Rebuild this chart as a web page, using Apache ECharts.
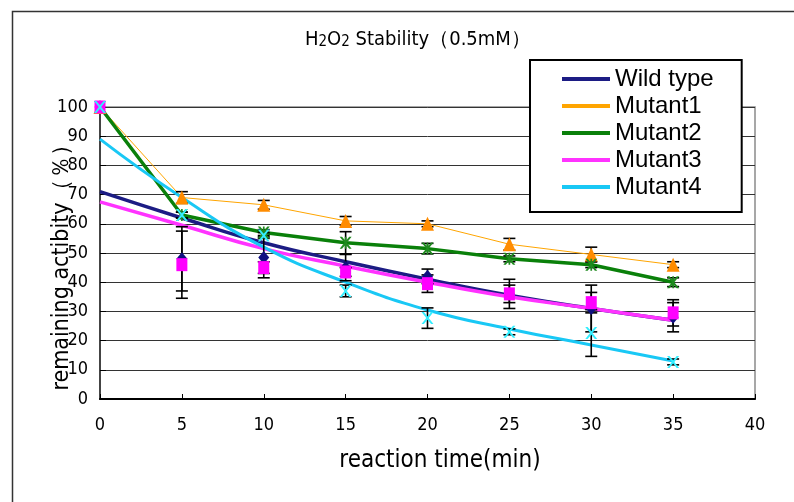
<!DOCTYPE html>
<html>
<head>
<meta charset="utf-8">
<script src="https://cdn.jsdelivr.net/npm/echarts@6/dist/echarts.min.js"></script>
<style>
  html, body { margin: 0; padding: 0; background: #fff; }
  #chart { width: 794px; height: 502px; }
</style>
</head>
<body>
<div id="chart"></div>
<script>
// reaction time (min)
const times = [0, 5, 10, 15, 20, 25, 30, 35];

// measured remaining activity (%) – marker positions
const wildType = [100, 48, 48.5, 45, 42, 36, 31, 28];
const mutant1  = [100, 69, 66.5, 61, 60, 53, 49.5, 46];
const mutant2  = [100, 63, 57, 53.5, 51.5, 48, 46, 40];
const mutant3  = [100, 46, 45, 43.5, 39.5, 36, 33, 29.5];
const mutant4  = [100, 63, 56, 37, 27.7, 23, 22.6, 12.7];

// error (±) for each point
const wildTypeErr = [0, 11, 7, 4.5, 2.5, 5, 8, 5];
const mutant1Err  = [0, 2, 1.5, 1.5, 1, 2, 2.5, 1];
const mutant2Err  = [0, 1, 1, 3.8, 1.8, 1, 1, 1.5];
const mutant3Err  = [0, 11.5, 2, 1.5, 3, 3, 3.5, 4.5];
const mutant4Err  = [0, 1, 1, 2, 3.5, 1, 8, 1];

// trend lines (Wild type, Mutant3, Mutant4)
const wildTypeTrend = [71, 62, 53.5, 47, 41, 35.5, 31, 27];
const mutant3Trend  = [67.5, 59.5, 51.5, 45.5, 40, 35, 31, 27];
const mutant4Trend  = [89, 69, 52, 40, 30.5, 24, 18.5, 13];

const xTicks = { min: 0, max: 40, interval: 5 };
const yTicks = { min: 0, max: 100, interval: 10 };

const NARROW = "'Liberation Sans Narrow', 'DejaVu Sans Condensed', 'Liberation Sans', sans-serif";
const SANS = "'Liberation Sans', Arial, 'Noto Sans CJK JP', sans-serif";

const X_PATH = 'path://M0,0L2,0L5,3.6L8,0L10,0L6,5L10,10L8,10L5,6.4L2,10L0,10L4,5Z';
const STAR_PATH = 'path://M0,0L2,0L5,3.6L8,0L10,0L6,5L10,10L8,10L5,6.4L2,10L0,10L4,5Z M4.3,0L5.7,0L5.7,10L4.3,10Z';

function pairs(ys) { return times.map((t, i) => [t, ys[i]]); }
function errPairs(ys, es) { return times.map((t, i) => [t, ys[i] - es[i], ys[i] + es[i]]); }

function errorSeries(ys, es) {
  return {
    type: 'custom',
    silent: true,
    z: 3,
    data: errPairs(ys, es).filter(d => d[2] > d[1]),
    renderItem: function (params, api) {
      const lo = api.coord([api.value(0), api.value(1)]);
      const hi = api.coord([api.value(0), api.value(2)]);
      const w = 6;
      const st = { stroke: '#000', lineWidth: 1.6 };
      return {
        type: 'group',
        children: [
          { type: 'line', shape: { x1: lo[0], y1: lo[1], x2: hi[0], y2: hi[1] }, style: st },
          { type: 'line', shape: { x1: lo[0] - w, y1: lo[1], x2: lo[0] + w, y2: lo[1] }, style: st },
          { type: 'line', shape: { x1: hi[0] - w, y1: hi[1], x2: hi[0] + w, y2: hi[1] }, style: st }
        ]
      };
    }
  };
}

function lineSeries(name, ys, color, width, smooth) {
  return {
    name: name, type: 'line', data: pairs(ys), symbol: 'none', smooth: smooth,
    z: 2, silent: true,
    lineStyle: { color: color, width: width }, itemStyle: { color: color }
  };
}

function markerSeries(ys, symbol, size, color) {
  return {
    type: 'scatter', data: pairs(ys), symbol: symbol, symbolSize: size, z: 4, silent: true,
    itemStyle: { color: color, opacity: 1 }
  };
}

const chart = echarts.init(document.getElementById('chart'));

chart.setOption({
  animation: false,
  backgroundColor: '#fff',
  title: {
    left: 300, top: 25,
    text: '{n|H}{s|2}{n|O}{s|2}{n| Stability（0.5mM）}',
    textStyle: {
      fontWeight: 'normal',
      rich: {
        n: { fontFamily: NARROW, fontSize: 20, fontWeight: 'normal', color: '#000' },
        s: { fontFamily: NARROW, fontSize: 15, fontWeight: 'normal', color: '#000', verticalAlign: 'bottom' }
      }
    }
  },
  grid: {
    left: 100, top: 107, right: 39, bottom: 103,
    show: true, borderColor: '#8a8a8a', borderWidth: 1.5, backgroundColor: 'transparent'
  },
  legend: {
    orient: 'vertical', left: 530, top: 60,
    data: ['Wild type', 'Mutant1', 'Mutant2', 'Mutant3', 'Mutant4'],
    icon: 'rect', itemWidth: 48, itemHeight: 4, itemGap: 3,
    padding: [7, 28, 13, 32],
    backgroundColor: '#fff', borderColor: '#000', borderWidth: 2,
    textStyle: { fontFamily: SANS, fontSize: 24, color: '#000' }
  },
  xAxis: {
    type: 'value', min: xTicks.min, max: xTicks.max, interval: xTicks.interval,
    axisLine: { lineStyle: { color: '#000', width: 2 } },
    axisTick: { inside: true, length: 5, lineStyle: { color: '#000' } },
    axisLabel: { fontFamily: NARROW, fontSize: 18, color: '#000', margin: 17 },
    splitLine: { show: false }
  },
  yAxis: {
    type: 'value', min: yTicks.min, max: yTicks.max, interval: yTicks.interval,
    axisLine: { show: true, lineStyle: { color: '#444', width: 2 } },
    axisTick: { show: true, inside: true, length: 6, lineStyle: { color: '#000' } },
    axisLabel: { fontFamily: NARROW, fontSize: 18, color: '#000', margin: 12 },
    splitLine: { lineStyle: { color: '#333', width: 1 } }
  },
  graphic: [
    { type: 'rect', left: 10, top: 9, shape: { width: 800, height: 520 },
      style: { fill: 'none', stroke: '#333', lineWidth: 1.5 }, silent: true, z: -10 },
    { type: 'text', x: 440, y: 461,
      style: { text: 'reaction time(min)', font: '24px ' + NARROW, fill: '#000', align: 'center', verticalAlign: 'middle' } },
    { type: 'text', x: 62, y: 262, rotation: Math.PI / 2,
      style: { text: 'remaining actibity（％）', font: '23px ' + NARROW, fill: '#000', align: 'center', verticalAlign: 'middle' } }
  ],
  series: [
    lineSeries('Wild type', wildTypeTrend, '#1c1c84', 3.5, true),
    lineSeries('Mutant1', mutant1, '#ffa500', 1, false),
    lineSeries('Mutant2', mutant2, '#0a800a', 3.5, false),
    lineSeries('Mutant3', mutant3Trend, '#ff33ff', 3.5, true),
    lineSeries('Mutant4', mutant4Trend, '#19c8f5', 3, true),
    errorSeries(wildType, wildTypeErr),
    errorSeries(mutant1, mutant1Err),
    errorSeries(mutant2, mutant2Err),
    errorSeries(mutant3, mutant3Err),
    errorSeries(mutant4, mutant4Err),
    markerSeries(wildType, 'diamond', [11, 13], '#101080'),
    markerSeries(mutant1, 'triangle', [13, 14], '#ff8c00'),
    markerSeries(mutant2, STAR_PATH, [12, 12], '#1f8a1f'),
    markerSeries(mutant3, 'rect', [11, 13], '#ff00ff'),
    markerSeries(mutant4, X_PATH, [12, 12], '#33eeff')
  ]
});
</script>
</body>
</html>
